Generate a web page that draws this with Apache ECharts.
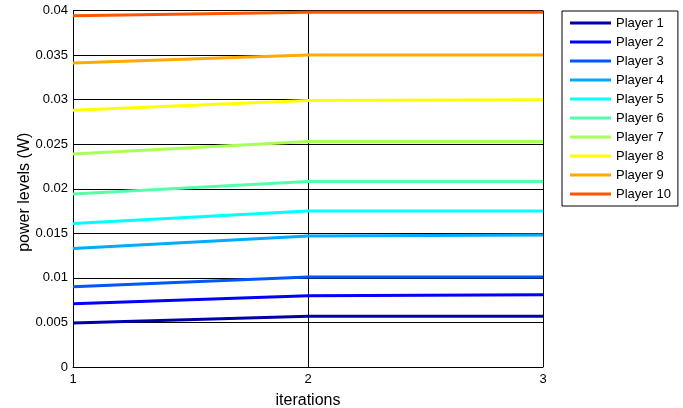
<!DOCTYPE html>
<html>
<head>
<meta charset="utf-8">
<script src="https://cdn.jsdelivr.net/npm/echarts@6/dist/echarts.min.js"></script>
<style>html,body{margin:0;padding:0;background:#fff}#c{width:683px;height:408px}</style>
</head>
<body>
<div id="c"></div>
<script>
const iterations = [1, 2, 3];
const playerNames = ['Player 1','Player 2','Player 3','Player 4','Player 5','Player 6','Player 7','Player 8','Player 9','Player 10'];
const player1 = [0.00493, 0.0057, 0.0057];
const player2 = [0.0071, 0.0080, 0.0081];
const player3 = [0.0090, 0.0101, 0.0101];
const player4 = [0.0133, 0.0147, 0.0148];
const player5 = [0.0161, 0.0175, 0.0175];
const player6 = [0.0194, 0.0208, 0.0208];
const player7 = [0.0239, 0.0253, 0.0253];
const player8 = [0.0288, 0.0299, 0.0300];
const player9 = [0.0341, 0.0350, 0.0350];
const player10 = [0.0394, 0.0398, 0.0398];
const players = [player1, player2, player3, player4, player5, player6, player7, player8, player9, player10];
const colors = ['#0000AA','#0000FF','#0055FF','#00AAFF','#00FFFF','#55FFAA','#AAFF55','#FFFF00','#FFAA00','#FF5500'];

const font = 'Liberation Sans, Arial, sans-serif';
const chart = echarts.init(document.getElementById('c'));
chart.setOption({
  animation: false,
  backgroundColor: '#fff',
  grid: { left: 73, right: 140, top: 10.5, bottom: 41, containLabel: false, outerBoundsMode: 'none' },
  xAxis: {
    type: 'value', min: 1, max: 3, interval: 1,
    name: 'iterations', nameLocation: 'middle', nameGap: 26,
    nameTextStyle: { fontFamily: font, fontSize: 16, color: '#000' },
    axisLine: { lineStyle: { color: '#000', width: 1 } },
    axisTick: { inside: true, length: 4, lineStyle: { color: '#000' } },
    axisLabel: { fontFamily: font, fontSize: 13, color: '#000', margin: 6 },
    splitLine: { show: true, lineStyle: { color: '#000', width: 1 } }
  },
  yAxis: {
    type: 'value', min: 0, max: 0.04, interval: 0.005,
    name: 'power levels (W)', nameLocation: 'middle', nameGap: 40, nameMoveOverlap: false,
    nameTextStyle: { fontFamily: font, fontSize: 16, color: '#000', padding: [0, 7, 0, 0] },
    axisLine: { show: true, lineStyle: { color: '#000', width: 1 } },
    axisTick: { inside: true, length: 4, lineStyle: { color: '#000' } },
    axisLabel: { fontFamily: font, fontSize: 13, color: '#000', margin: 5 },
    splitLine: { show: true, lineStyle: { color: '#000', width: 1 } }
  },
  legend: {
    orient: 'vertical', left: 562, top: 11,
    data: playerNames,
    icon: 'rect', itemWidth: 41, itemHeight: 3, itemGap: 5,
    padding: [5, 7, 5, 8],
    borderColor: '#000', borderWidth: 1,
    textStyle: { fontFamily: font, fontSize: 13, color: '#000', lineHeight: 14 }
  },
  series: players.map((d, i) => ({
    name: playerNames[i], type: 'line',
    data: iterations.map((x, j) => [x, d[j]]),
    symbol: 'none', color: colors[i],
    lineStyle: { width: 3, color: colors[i] }
  }))
});
</script>
</body>
</html>
